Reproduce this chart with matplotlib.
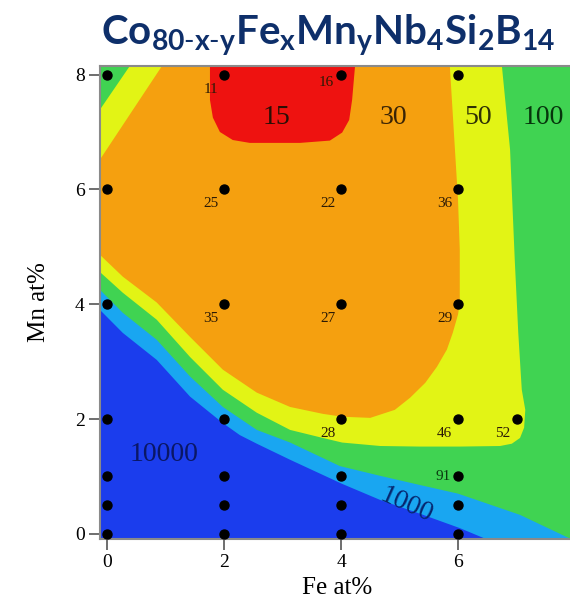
import matplotlib
matplotlib.use("Agg")
import matplotlib.pyplot as plt

# measured compositions (Fe at%, Mn at%)
fe_pts = [0, 0, 0, 0, 0, 0, 0,
          2, 2, 2, 2, 2, 2, 2,
          4, 4, 4, 4, 4, 4, 4,
          6, 6, 6, 6, 6, 6, 6,
          7]
mn_pts = [8, 6, 4, 2, 1, 0.5, 0,
          8, 6, 4, 2, 1, 0.5, 0,
          8, 6, 4, 2, 1, 0.5, 0,
          8, 6, 4, 2, 1, 0.5, 0,
          2]

# values written next to some points
lab_fe = [2, 4, 2, 4, 6, 2, 4, 6, 4, 6, 7, 6]
lab_mn = [8, 8, 6, 6, 6, 4, 4, 4, 2, 2, 2, 1]
lab_txt = ["11", "16", "25", "22", "36", "35", "27", "29", "28", "46", "52", "91"]

# contour band edges
red_fe = [1.76, 1.76, 1.81, 1.93, 2.15, 2.44, 3.30, 3.81, 4.02, 4.14, 4.19, 4.24]
red_mn = [8.15, 7.56, 7.25, 7.00, 6.86, 6.81, 6.81, 6.85, 6.99, 7.21, 7.56, 8.15]

orange_fe = [-0.12, 0.94, 5.86, 6.00, 6.03, 6.03, 6.00, 5.91, 5.81, 5.64, 5.44,
             5.18, 4.92, 4.50, 4.02, 3.69, 3.13, 2.56, 1.98, 1.42, 0.85, 0.27, -0.12]
orange_mn = [6.52, 8.15, 8.15, 5.82, 4.95, 4.02, 3.82, 3.50, 3.21, 2.91, 2.63,
             2.37, 2.16, 2.02, 2.04, 2.09, 2.21, 2.46, 2.86, 3.43, 4.03, 4.48, 4.86]

yellow_fe = [-0.12, 0.39, 6.75, 6.89, 6.97, 7.03, 7.09, 7.15, 7.13, 7.06, 6.92,
             6.72, 6.03, 5.35, 4.67, 4.02, 3.69, 3.13, 2.56, 1.98, 1.42, 0.85,
             0.27, -0.12]
yellow_mn = [7.39, 8.15, 8.15, 6.69, 4.77, 3.50, 2.51, 2.16, 1.85, 1.67, 1.57,
             1.53, 1.52, 1.52, 1.53, 1.59, 1.67, 1.81, 2.11, 2.51, 3.08, 3.73,
             4.20, 4.56]

lblue_fe = [-0.12, 0.27, 0.85, 1.42, 1.98, 2.56, 3.13, 3.98, 4.67, 5.35, 6.00,
            7.06, 7.95, -0.12]
lblue_mn = [4.25, 3.85, 3.38, 2.74, 2.21, 1.81, 1.59, 1.18, 1.01, 0.85, 0.70,
            0.33, -0.10, -0.10]

blue_fe = [-0.12, 0.27, 0.85, 1.42, 1.76, 1.98, 2.27, 2.56, 3.13, 4.02, 4.67,
           5.35, 6.03, 6.50, -0.12]
blue_mn = [3.90, 3.50, 3.03, 2.39, 2.11, 1.93, 1.72, 1.57, 1.29, 0.87, 0.59,
           0.35, 0.10, -0.10, -0.10]

# band labels
band_txt = ["15", "30", "50", "100", "10000", "1000"]
band_fe = [2.9, 4.9, 6.35, 7.45, 0.98, 5.12]
band_mn = [7.25, 7.25, 7.25, 7.25, 1.38, 0.5]

c_blue = "#1b3ded"
c_lblue = "#19a6f1"
c_green = "#40d352"
c_yellow = "#e2f415"
c_orange = "#f5a00f"
c_red = "#ee1210"

plt.rcParams["font.family"] = ["Liberation Serif", "DejaVu Serif"]
plt.rcParams["mathtext.fontset"] = "custom"
plt.rcParams["mathtext.rm"] = "Lato"
plt.rcParams["mathtext.bf"] = "Lato:bold"

fig = plt.figure(figsize=(5.7, 6.08), dpi=100)
ax = fig.add_axes([0.1754, 0.1135, 0.8334, 0.778])

ax.set_facecolor(c_green)
ax.fill(yellow_fe, yellow_mn, color=c_yellow, lw=0)
ax.fill(lblue_fe, lblue_mn, color=c_lblue, lw=0)
ax.fill(blue_fe, blue_mn, color=c_blue, lw=0)
ax.fill(orange_fe, orange_mn, color=c_orange, lw=0)
ax.fill(red_fe, red_mn, color=c_red, lw=0)

ax.scatter(fe_pts, mn_pts, s=42, color="black", zorder=5, clip_on=False)

for x, y, t in zip(lab_fe, lab_mn, lab_txt):
    col = "#2b1a05"
    if t == "91":
        col = "#0b3a10"
        ax.text(x - 0.12, y, t, fontsize=11, color=col, ha="right", va="center")
    elif t == "16":
        ax.text(x - 0.12, y - 0.03, t, fontsize=11, color=col, ha="right", va="top")
    else:
        ax.text(x - 0.1, y - 0.14, t, fontsize=11, color=col, ha="right", va="top")

band_col = ["#2a0f05", "#3a2405", "#2e3005", "#06350c", "#0a1766", "#06266e"]
for x, y, t, c in zip(band_fe, band_mn, band_txt, band_col):
    rot = -24 if t == "1000" else 0
    ax.text(x, y, t, fontsize=20, color=c, ha="center", va="center", rotation=rot)

ax.set_xlim(-0.12, 8.0)
ax.set_ylim(-0.09, 8.15)
ax.set_xticks([0, 2, 4, 6])
ax.set_yticks([0, 2, 4, 6, 8])
ax.tick_params(direction="out", length=8, width=1.2, color="#555555", labelsize=14, pad=3)
for sp in ax.spines.values():
    sp.set_color("#8a8a8a")
    sp.set_linewidth(1.5)
ax.spines["right"].set_visible(False)

ax.set_xlabel("Fe at%", fontsize=18, labelpad=4)
ax.set_ylabel("Mn at%", fontsize=18, labelpad=18)

fig.text(0.575, 0.98, r"$\mathbf{Co_{80\text{-}x\text{-}y}Fe_{x}Mn_{y}Nb_{4}Si_{2}B_{14}}$",
         fontsize=29, color="#0e2f6a", ha="center", va="top")

fig.savefig("out.png", dpi=100)
